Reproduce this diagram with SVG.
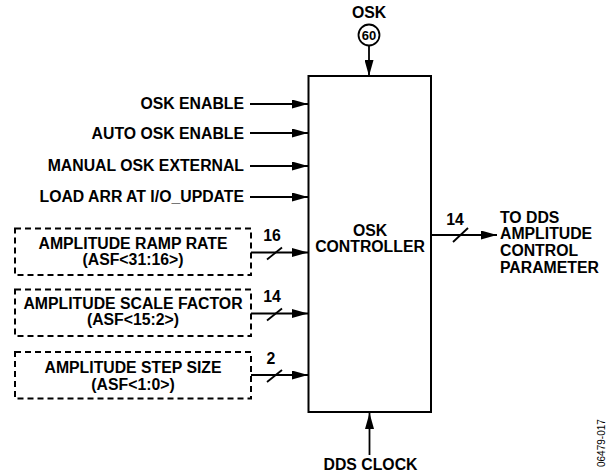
<svg xmlns="http://www.w3.org/2000/svg" width="612" height="474" viewBox="0 0 612 474">
<defs>
<marker id="ah" markerWidth="16" markerHeight="9" refX="16" refY="4.5" orient="auto" markerUnits="userSpaceOnUse">
<path d="M0,0 L16,4.5 L0,9 Z" fill="#000"/>
</marker>
<style>
text{font-family:"Liberation Sans",Arial,sans-serif;font-weight:bold;font-size:15.8px;fill:#000}
.r{text-anchor:end}
.m{text-anchor:middle}
.s{font-size:13px}
.line{stroke:#000;stroke-width:1.8;fill:none}
.dash{stroke:#000;stroke-width:2;fill:none;stroke-dasharray:6,4}
.id{font-weight:normal;font-size:10px}
</style>
</defs>
<rect width="612" height="474" fill="#fff"/>
<g id="controller">
<rect x="308.5" y="76" width="122.5" height="336" fill="#fff" stroke="#000" stroke-width="2"/>
<text x="370" y="236" class="m">OSK</text>
<text x="370" y="252" class="m">CONTROLLER</text>
</g>
<g id="osk">
<text x="369" y="17.5" class="m">OSK</text>
<circle cx="369" cy="35" r="10.5" fill="#fff" stroke="#000" stroke-width="1.8"/>
<text x="369" y="39.5" class="m s">60</text>
</g>
<g id="ramp">
<rect x="15" y="228.5" width="236" height="46.5" class="dash"/>
<text x="133" y="248.5" class="m">AMPLITUDE RAMP RATE</text>
<text x="133" y="265" class="m">(ASF&lt;31:16&gt;)</text>
</g>
<g id="scale">
<rect x="15" y="289.5" width="236" height="46.5" class="dash"/>
<text x="133" y="308.5" class="m">AMPLITUDE SCALE FACTOR</text>
<text x="133" y="325" class="m">(ASF&lt;15:2&gt;)</text>
</g>
<g id="step">
<rect x="15" y="352" width="236" height="46.5" class="dash"/>
<text x="133" y="372.5" class="m">AMPLITUDE STEP SIZE</text>
<text x="133" y="389.5" class="m">(ASF&lt;1:0&gt;)</text>
</g>
<g id="labels">
<text x="244" y="109" class="r">OSK ENABLE</text>
<text x="244" y="138.5" class="r">AUTO OSK ENABLE</text>
<text x="244" y="171" class="r">MANUAL OSK EXTERNAL</text>
<text x="244" y="202" class="r">LOAD ARR AT I/O_UPDATE</text>
<text x="500" y="222.7">TO DDS</text>
<text x="500" y="239.3">AMPLITUDE</text>
<text x="500" y="256">CONTROL</text>
<text x="500" y="272.7">PARAMETER</text>
<text x="370.5" y="470" class="m">DDS CLOCK</text>
<text x="272" y="241" class="m">16</text>
<text x="272" y="302" class="m">14</text>
<text x="271" y="363.5" class="m">2</text>
<text x="455" y="225" class="m">14</text>
<text class="id" transform="translate(604.5,467) rotate(-90)">06479-017</text>
</g>
<g id="connectors">
<line x1="369" y1="45.5" x2="369" y2="76" class="line" marker-end="url(#ah)"/>
<line x1="250" y1="104" x2="308" y2="104" class="line" marker-end="url(#ah)"/>
<line x1="250" y1="133" x2="308" y2="133" class="line" marker-end="url(#ah)"/>
<line x1="250" y1="166" x2="308" y2="166" class="line" marker-end="url(#ah)"/>
<line x1="250" y1="197" x2="308" y2="197" class="line" marker-end="url(#ah)"/>
<line x1="251" y1="252.5" x2="308" y2="252.5" class="line" marker-end="url(#ah)"/>
<line x1="267" y1="259.5" x2="282" y2="247.5" class="line"/>
<line x1="251" y1="313.5" x2="308" y2="313.5" class="line" marker-end="url(#ah)"/>
<line x1="267" y1="320.5" x2="282" y2="308.5" class="line"/>
<line x1="251" y1="375" x2="308" y2="375" class="line" marker-end="url(#ah)"/>
<line x1="267" y1="382" x2="282" y2="370" class="line"/>
<line x1="431" y1="235" x2="497" y2="235" class="line" marker-end="url(#ah)"/>
<line x1="453" y1="242" x2="468" y2="228" class="line"/>
<line x1="369.5" y1="455" x2="369.5" y2="413" class="line" marker-end="url(#ah)"/>
</g>
</svg>
